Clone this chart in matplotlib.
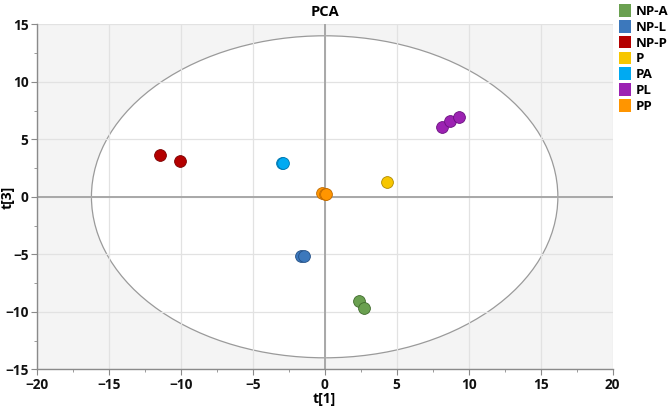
import matplotlib
matplotlib.use("Agg")
import matplotlib.pyplot as plt
from matplotlib.patches import Ellipse, Patch
from matplotlib.ticker import MultipleLocator

plt.rcParams['font.family'] = ['Open Sans', 'DejaVu Sans']
plt.rcParams['font.weight'] = 'bold'

groups = ["NP-A", "NP-L", "NP-P", "P", "PA", "PL", "PP"]
colors = ["#6aa050", "#3c78bc", "#b40000", "#f7c600", "#00aaf2", "#9c22b2", "#ff9500"]
edges = ["#3f6a2c", "#234f85", "#7a0000", "#b08a00", "#0077b0", "#6a1080", "#c06a00"]
t1 = {
    "NP-A": [2.41, 2.73],
    "NP-L": [-1.67, -1.46],
    "NP-P": [-11.46, -10.07],
    "P": [4.33],
    "PA": [-2.94, -2.90],
    "PL": [8.17, 8.68, 9.31],
    "PP": [-0.19, 0.02, 0.10],
}
t3 = {
    "NP-A": [-9.04, -9.65],
    "NP-L": [-5.16, -5.16],
    "NP-P": [3.65, 3.13],
    "P": [1.30],
    "PA": [2.96, 2.98],
    "PL": [6.03, 6.63, 6.90],
    "PP": [0.37, 0.23, 0.25],
}
ellipse_a = 16.2
ellipse_b = 14.0

fig = plt.figure(figsize=(6.68, 4.07), dpi=100)
ax = fig.add_axes([0.055, 0.0926, 0.862, 0.8477])
ax.set_facecolor("#f4f4f4")
ax.add_patch(Ellipse((0, 0), 2 * ellipse_a, 2 * ellipse_b, facecolor="white",
                     edgecolor="#9a9a9a", linewidth=0.9, zorder=0.3))
ax.set_xlim(-20, 20)
ax.set_ylim(-15, 15)
ax.xaxis.set_major_locator(MultipleLocator(5))
ax.yaxis.set_major_locator(MultipleLocator(5))
ax.xaxis.set_minor_locator(MultipleLocator(2.5))
ax.yaxis.set_minor_locator(MultipleLocator(2.5))
ax.set_axisbelow(True)
ax.grid(True, which="major", color="#e2e2e2", linewidth=0.9)
ax.axhline(0, color="#a8a8a8", linewidth=1.4, zorder=1)
ax.axvline(0, color="#a8a8a8", linewidth=1.4, zorder=1)

for s in ["top", "right"]:
    ax.spines[s].set_visible(False)
for s in ["left", "bottom"]:
    ax.spines[s].set_color("#8a8a8a")
    ax.spines[s].set_linewidth(1.0)
ax.tick_params(which="major", length=4, color="#8a8a8a", labelsize=9.8, pad=2,
               labelcolor="#111111")
ax.tick_params(which="minor", length=2.5, color="#8a8a8a")

for g, c, e in zip(groups, colors, edges):
    ax.scatter(t1[g], t3[g], s=72, color=c, edgecolors=e, linewidths=0.6, zorder=3)

ax.set_title("PCA", fontsize=10.5, fontweight="bold", pad=6)
ax.set_xlabel("t[1]", fontsize=10, fontweight="bold", labelpad=0)
fig.text(0.012, 0.516, "t[3]", rotation=90, fontsize=10, fontweight="bold",
         ha="center", va="center")

handles = [Patch(facecolor=c, edgecolor="none") for c in colors]
fig.legend(handles, groups, loc="upper left", bbox_to_anchor=(0.924, 0.993),
           frameon=False, prop={"weight": "bold", "size": 9.5},
           handlelength=0.95, handleheight=1.1, handletextpad=0.35,
           labelspacing=0.15, borderaxespad=0, borderpad=0.1)

fig.savefig("out.png", dpi=100)
